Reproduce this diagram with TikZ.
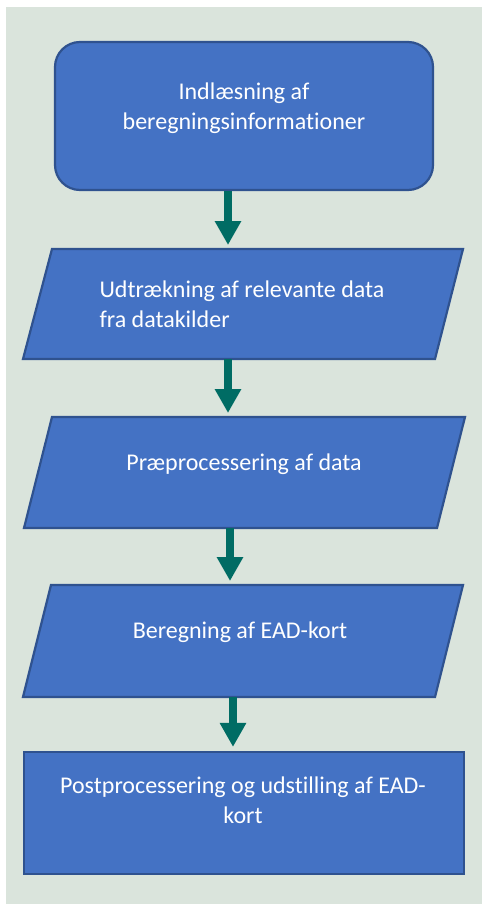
\documentclass[tikz,border=0pt]{standalone}
\usepackage{fontspec}
\setmainfont{Carlito}[Ligatures=NoCommon]
\usetikzlibrary{arrows.meta}
\definecolor{bg}{RGB}{218,228,220}
\definecolor{boxfill}{HTML}{4472C4}
\definecolor{boxline}{HTML}{2F528F}
\definecolor{arrowc}{RGB}{0,108,100}
\begin{document}
\begin{tikzpicture}[x=1pt,y=-1pt,
  shapebox/.style={draw=boxline,fill=boxfill,line width=2.2pt,inner sep=0pt},
  holder/.style={inner sep=0pt,outer sep=0pt},
  para/.style={draw=boxline,fill=boxfill,line width=2.2pt,line join=miter},
  label/.style={text=white,font=\fontsize{24}{30}\selectfont,inner sep=0pt},
  flow/.style={draw=arrowc,line width=8pt,-{Triangle[width=25pt,length=24pt]},shorten >=4pt}]
\useasboundingbox (0,0) rectangle (482,904);
\fill[white] (0,0) rectangle (482,904);
\fill[bg] (6,7) rectangle (482,904);

% box 1
\node[shapebox,rounded corners=25pt,minimum width=378pt,minimum height=148pt] (b1) at (244,116) {};
% box 2
\node[holder,minimum width=440pt,minimum height=110pt] (b2) at (243,304) {};
\draw[para] ([xshift=29pt]b2.north west) -- (b2.north east) -- ([xshift=-28pt]b2.south east) -- (b2.south west) -- cycle;
% box 3
\node[holder,minimum width=441pt,minimum height=111pt] (b3) at (244.5,472.5) {};
\draw[para] ([xshift=28pt]b3.north west) -- (b3.north east) -- ([xshift=-28pt]b3.south east) -- (b3.south west) -- cycle;
% box 4
\node[holder,minimum width=440pt,minimum height=112pt] (b4) at (243,641) {};
\draw[para] ([xshift=28pt]b4.north west) -- (b4.north east) -- ([xshift=-28pt]b4.south east) -- (b4.south west) -- cycle;
% box 5
\node[shapebox,minimum width=440pt,minimum height=122pt] (b5) at (244,813) {};

% texts
\node[label,align=center] (t1) at (244,108) {Indlæsning af\\beregningsinformationer};
\node[label,align=left] (t2) at (242,304) {Udtrækning af relevante data\\fra datakilder};
\node[label] (t3) at (244,464) {Præprocessering af data};
\node[label] (t4) at (240,632) {Beregning af EAD-kort};
\node[label,align=center] (t5) at (243,800) {Postprocessering og udstilling af EAD-\\kort};

% arrows
\draw[flow] ([xshift=-16pt]b1.south) -- ([xshift=-15pt]b2.north);
\draw[flow] ([xshift=-15pt]b2.south) -- ([xshift=-16.5pt]b3.north);
\draw[flow] ([xshift=-14.5pt]b3.south) -- ([xshift=-13pt]b4.north);
\draw[flow] ([xshift=-10pt]b4.south) -- ([xshift=-11pt]b5.north);
\end{tikzpicture}
\end{document}
